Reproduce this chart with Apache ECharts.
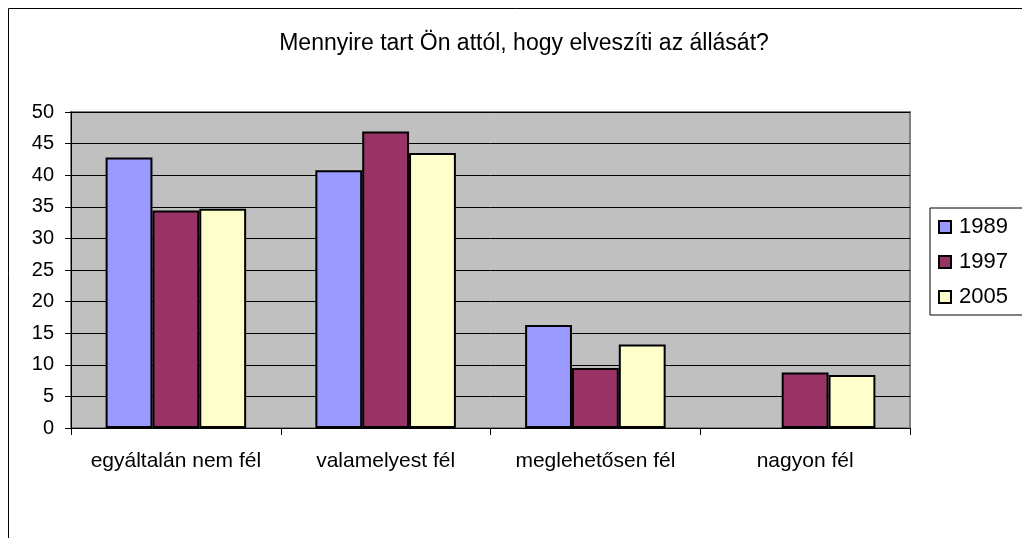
<!DOCTYPE html>
<html>
<head>
<meta charset="utf-8">
<script src="https://cdn.jsdelivr.net/npm/echarts@6/dist/echarts.min.js"></script>
<style>
  html, body { margin: 0; padding: 0; background: #fff; }
  #chart { width: 1022px; height: 538px; }
</style>
</head>
<body>
<div id="chart"></div>
<script>
const categories = ['egyáltalán nem fél', 'valamelyest fél', 'meglehetősen fél', 'nagyon fél'];
const years = ['1989', '1997', '2005'];
const values1989 = [42.8, 40.8, 16.3, null];
const values1997 = [34.4, 46.9, 9.5, 8.8];
const values2005 = [34.7, 43.5, 13.2, 8.4];
const colors = ['#9999ff', '#993366', '#ffffcc'];

const font = '"Liberation Sans", Arial, sans-serif';
const chart = echarts.init(document.getElementById('chart'));

const seriesData = [values1989, values1997, values2005];
const series = years.map((y, i) => ({
  name: y,
  type: 'bar',
  data: seriesData[i],
  barGap: '0%',
  barCategoryGap: '33%',
  itemStyle: { color: colors[i], borderColor: '#000', borderWidth: 2 },
  emphasis: { disabled: true },
  z: 3
}));

chart.setOption({
  animation: false,
  textStyle: { fontFamily: font },
  title: {
    text: 'Mennyire tart Ön attól, hogy elveszíti az állását?',
    left: 519,
    textAlign: 'center',
    top: 27,
    textStyle: { fontFamily: font, fontSize: 23, fontWeight: 'normal', color: '#000' }
  },
  graphic: [{
    type: 'rect',
    shape: { x: 8.5, y: 8.5, width: 1040, height: 600 },
    style: { fill: 'none', stroke: '#000', lineWidth: 1 },
    silent: true
  }],
  legend: {
    orient: 'vertical',
    left: 930,
    top: 208,
    padding: [8, 16, 7, 8],
    itemGap: 13,
    itemWidth: 12,
    itemHeight: 12,
    icon: 'rect',
    borderColor: '#000',
    borderWidth: 1,
    backgroundColor: '#fff',
    data: years,
    textStyle: { fontFamily: font, fontSize: 22, color: '#000', padding: [0, 0, 0, 3] }
  },
  grid: {
    left: 71, right: 112, top: 112, bottom: 110,
    show: true,
    backgroundColor: '#c0c0c0',
    borderColor: '#808080',
    borderWidth: 2
  },
  xAxis: {
    type: 'category',
    data: categories,
    axisLine: { lineStyle: { color: '#000', width: 1 } },
    axisTick: { show: true, interval: 0, length: 7, lineStyle: { color: '#000' } },
    axisLabel: { interval: 0, hideOverlap: false, color: '#000', fontSize: 21, fontFamily: font, margin: 23 },
    splitLine: { show: false }
  },
  yAxis: {
    type: 'value',
    min: 0,
    max: 50,
    interval: 5,
    axisLine: { show: true, lineStyle: { color: '#000', width: 1 } },
    axisTick: { show: true, length: 6, lineStyle: { color: '#000' } },
    axisLabel: { color: '#000', fontSize: 20, fontFamily: font, margin: 17 },
    splitLine: { show: true, lineStyle: { color: '#000', width: 1 } }
  },
  series
});
</script>
</body>
</html>
